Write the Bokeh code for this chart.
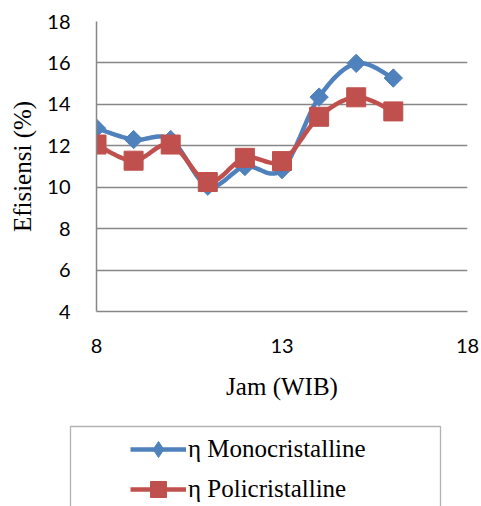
import numpy as np
from bokeh.plotting import figure
from bokeh.layouts import column
from bokeh.models import (Legend, LegendItem, FixedTicker, BoxAnnotation, Range1d)
from bokeh.embed import file_html
from bokeh.resources import INLINE

# ---- data ----
jam = [8, 9, 10, 11, 12, 13, 14, 15, 16]
mono = [12.85, 12.3, 12.3, 10.05, 11.0, 10.85, 14.35, 15.98, 15.27]
poli = [12.06, 11.28, 12.06, 10.25, 11.42, 11.26, 13.4, 14.34, 13.66]
x_ticks = [8, 13, 18]
y_ticks = [4, 6, 8, 10, 12, 14, 16, 18]
series_names = ["\u03b7 Monocristalline", "\u03b7 Policristalline"]

BLUE = "#4F81BD"
RED = "#C0504D"
GRID = "#878787"


def smooth(xs, ys, n=24):
    """Excel-like smoothed line (cubic Bezier, Catmull-Rom control points)."""
    P = np.column_stack([xs, ys]).astype(float)
    out = [P[0]]
    m = len(P)
    for i in range(m - 1):
        p0 = P[i - 1] if i > 0 else P[i]
        p1 = P[i]
        p2 = P[i + 1]
        p3 = P[i + 2] if i + 2 < m else P[i + 1]
        c1 = p1 + (p2 - p0) / 6.0
        c2 = p2 - (p3 - p1) / 6.0
        t = np.linspace(0, 1, n)[1:, None]
        seg = ((1 - t) ** 3) * p1 + 3 * ((1 - t) ** 2) * t * c1 + 3 * (1 - t) * t ** 2 * c2 + t ** 3 * p2
        out.extend(seg)
    out = np.array(out)
    return out[:, 0], out[:, 1]


W = 481
H1 = 420
H2 = 86

p = figure(width=W, height=H1, output_backend="svg", toolbar_location=None,
           x_range=Range1d(8, 18), y_range=Range1d(4, 18),
           min_border_left=96, min_border_right=14, min_border_top=21, min_border_bottom=109)
p.frame_align = False
p.outline_line_color = None
p.background_fill_color = "white"
p.border_fill_color = "white"

# grid
p.xgrid.grid_line_color = None
p.ygrid.grid_line_color = GRID
p.ygrid.grid_line_width = 1.5

# axes
p.xaxis.ticker = FixedTicker(ticks=x_ticks)
p.yaxis.ticker = FixedTicker(ticks=y_ticks)
for ax in (p.xaxis[0], p.yaxis[0]):
    ax.axis_line_color = GRID
    ax.axis_line_width = 1.5
    ax.major_tick_line_color = None
    ax.minor_tick_line_color = None
    ax.major_tick_out = 0
    ax.major_tick_in = 0
    ax.major_label_text_font = "Lato"
    ax.major_label_text_font_size = "20px"
    ax.major_label_text_color = "black"
    ax.axis_label_text_font = "Liberation Serif"
    ax.axis_label_text_font_size = "25px"
    ax.axis_label_text_font_style = "normal"
    ax.axis_label_text_color = "black"

p.xaxis.axis_label = "Jam (WIB)"
p.yaxis.axis_label = "Efisiensi (%)"
p.yaxis.major_label_standoff = 26
p.yaxis.axis_label_standoff = 8
p.xaxis.major_label_standoff = 27
p.xaxis.axis_label_standoff = 17

# series
mx, my = smooth(jam, mono)
px_, py_ = smooth(jam, poli)

p.line(mx, my, line_color=BLUE, line_width=4.5)
p.scatter(jam, mono, marker="square", angle=np.pi / 4, size=13,
          fill_color=BLUE, line_color=BLUE)
p.line(px_, py_, line_color=RED, line_width=4.5)
p.scatter(jam, poli, marker="square", size=19, fill_color=RED, line_color=RED)

# ---- legend panel ----
q = figure(width=W, height=H2, output_backend="svg", toolbar_location=None,
           x_range=Range1d(0, W), y_range=Range1d(H2, 0),
           min_border_left=0, min_border_right=0, min_border_top=0, min_border_bottom=0)
q.frame_align = False
q.outline_line_color = None
q.axis.visible = False
q.grid.visible = False
q.background_fill_color = "white"
q.border_fill_color = "white"

# legend-only renderers (not drawn; they provide the legend glyph styles)
ql1 = q.line(jam, mono, line_color=BLUE, line_width=4.5, visible=False)
qs1 = q.scatter(jam, mono, marker="diamond", size=17,
                fill_color=BLUE, line_color=BLUE, visible=False)
ql2 = q.line(jam, poli, line_color=RED, line_width=4.5, visible=False)
qs2 = q.scatter(jam, poli, marker="square", size=19, fill_color=RED,
                line_color=RED, visible=False)

box = BoxAnnotation(left=70, right=440, top=6, bottom=H2 + 20,
                    fill_alpha=0, line_color="black", line_width=1.3)
q.add_layout(box)

legend = Legend(items=[LegendItem(label=series_names[0], renderers=[ql1, qs1]),
                       LegendItem(label=series_names[1], renderers=[ql2, qs2])],
                location=(130, -3))
legend.background_fill_alpha = 0
legend.border_line_alpha = 0
legend.padding = 0
legend.margin = 0
legend.spacing = 0
legend.glyph_width = 56
legend.glyph_height = 40
legend.label_height = 40
legend.label_standoff = 2
legend.label_text_font = "Liberation Serif"
legend.label_text_font_size = "25px"
legend.label_text_color = "black"
q.add_layout(legend, "center")

layout = column(p, q, spacing=0)
open("out.html", "w").write(file_html(layout, INLINE))
